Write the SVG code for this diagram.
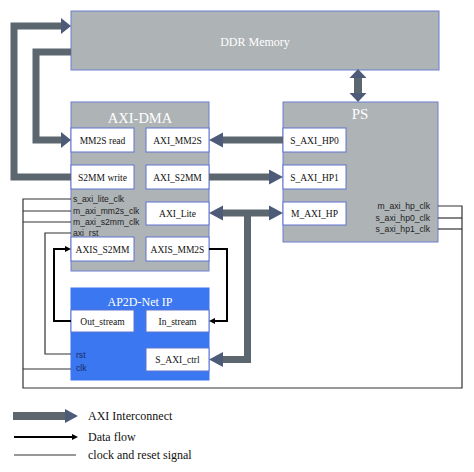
<svg xmlns="http://www.w3.org/2000/svg" width="474" height="472" viewBox="0 0 474 472">
<style>
.gray{fill:#aeb3b5;stroke:#6b7fd0;stroke-width:1}
.blue{fill:#3b77f0;stroke:#3b77f0;stroke-width:1}
.sub{fill:#ffffff;stroke:#5f74d0;stroke-width:1}
.lbl{font-family:"Liberation Serif","Times New Roman",serif;font-size:9.5px;fill:#111;text-anchor:middle}
.ttl{font-family:"Liberation Serif","Times New Roman",serif;fill:#ffffff;text-anchor:middle}
.sig{font-family:"Liberation Sans",Arial,sans-serif;font-size:8.6px;fill:#222}
.sigb{font-family:"Liberation Sans",Arial,sans-serif;font-size:8.6px;fill:#1c2a66}
.leg{font-family:"Liberation Serif","Times New Roman",serif;font-size:12px;fill:#111}
.axi{fill:none;stroke:#5b666e;stroke-width:7}
.head{fill:#4d5b78}
.df{fill:none;stroke:#000;stroke-width:2}
.dfh{fill:#000}
.clk{fill:none;stroke:#333;stroke-width:1.2}
</style>

<g id="ddr">
<rect class="gray" x="71" y="11" width="368" height="59"/>
<text class="ttl" x="255" y="46" font-size="12">DDR Memory</text>
</g>

<g id="axi-dma">
<rect class="gray" x="71" y="102" width="138" height="169"/>
<text class="ttl" x="140" y="123" font-size="14.5">AXI-DMA</text>
<text class="sig" x="73" y="202">s_axi_lite_clk</text>
<text class="sig" x="73" y="214">m_axi_mm2s_clk</text>
<text class="sig" x="73" y="225">m_axi_s2mm_clk</text>
<text class="sig" x="73" y="236">axi_rst</text>
</g>
<g id="mm2s-read"><rect class="sub" x="71" y="128" width="63" height="24"/><text class="lbl" x="102.5" y="143.5">MM2S read</text></g>
<g id="axi-mm2s"><rect class="sub" x="146" y="128" width="63" height="24"/><text class="lbl" x="177.5" y="143.5">AXI_MM2S</text></g>
<g id="s2mm-write"><rect class="sub" x="71" y="165" width="63" height="24"/><text class="lbl" x="102.5" y="180.5">S2MM write</text></g>
<g id="axi-s2mm"><rect class="sub" x="146" y="165" width="63" height="24"/><text class="lbl" x="177.5" y="180.5">AXI_S2MM</text></g>
<g id="axi-lite"><rect class="sub" x="146" y="202" width="63" height="23"/><text class="lbl" x="177.5" y="216.5">AXI_Lite</text></g>
<g id="axis-s2mm"><rect class="sub" x="71" y="237" width="63" height="24"/><text class="lbl" x="102.5" y="252.5">AXIS_S2MM</text></g>
<g id="axis-mm2s"><rect class="sub" x="146" y="237" width="63" height="24"/><text class="lbl" x="177.5" y="252.5">AXIS_MM2S</text></g>

<g id="ap2d">
<rect class="blue" x="71" y="288" width="138" height="92"/>
<text class="ttl" x="140" y="306" font-size="12">AP2D-Net IP</text>
<text class="sigb" x="76" y="358">rst</text>
<text class="sigb" x="76" y="371">clk</text>
</g>
<g id="out-stream"><rect class="sub" x="71" y="310" width="63" height="22"/><text class="lbl" x="102.5" y="324.5">Out_stream</text></g>
<g id="in-stream"><rect class="sub" x="146" y="310" width="63" height="22"/><text class="lbl" x="177.5" y="324.5">In_stream</text></g>
<g id="s-axi-ctrl"><rect class="sub" x="146" y="348" width="63" height="23"/><text class="lbl" x="177.5" y="362.5">S_AXI_ctrl</text></g>

<g id="ps">
<rect class="gray" x="283" y="102" width="155" height="140"/>
<text class="ttl" x="360" y="119" font-size="15">PS</text>
<text class="sig" x="430" y="209" text-anchor="end">m_axi_hp_clk</text>
<text class="sig" x="430" y="221" text-anchor="end">s_axi_hp0_clk</text>
<text class="sig" x="430" y="232" text-anchor="end">s_axi_hp1_clk</text>
</g>
<g id="s-axi-hp0"><rect class="sub" x="283" y="128" width="63" height="24"/><text class="lbl" x="314.5" y="143.5">S_AXI_HP0</text></g>
<g id="s-axi-hp1"><rect class="sub" x="283" y="165" width="63" height="24"/><text class="lbl" x="314.5" y="180.5">S_AXI_HP1</text></g>
<g id="m-axi-hp"><rect class="sub" x="283" y="202" width="63" height="23"/><text class="lbl" x="314.5" y="216.5">M_AXI_HP</text></g>

<g id="connectors">
<!-- clock and reset -->
<polyline class="clk" points="71,199 23,199 23,388 462,388 462,206 438,206"/>
<line class="clk" x1="23" y1="211" x2="71" y2="211"/>
<line class="clk" x1="23" y1="222" x2="71" y2="222"/>
<line class="clk" x1="23" y1="369" x2="71" y2="369"/>
<polyline class="clk" points="71,233 45,233 45,354 71,354"/>
<line class="clk" x1="438" y1="218" x2="462" y2="218"/>
<line class="clk" x1="438" y1="229" x2="462" y2="229"/>

<!-- data flow -->
<polyline class="df" points="209,249 227,249 227,321 214,321"/>
<polygon class="dfh" points="209,321 215,318 215,324"/>
<polyline class="df" points="71,321 54,321 54,249 66,249"/>
<polygon class="dfh" points="71,249 65,246 65,252"/>

<!-- AXI interconnect -->
<polyline class="axi" points="71,177 14,177 14,26 62,26"/>
<polygon class="head" points="71,26 61,18 61,34"/>
<polyline class="axi" points="71,52 36,52 36,140 62,140"/>
<polygon class="head" points="71,140 61,132 61,148"/>
<line class="axi" x1="283" y1="140" x2="222" y2="140"/>
<polygon class="head" points="209,140 223,132.5 223,147.5"/>
<line class="axi" x1="209" y1="177" x2="270" y2="177"/>
<polygon class="head" points="283,177 269,169.5 269,184.5"/>
<line class="axi" x1="222" y1="213" x2="270" y2="213"/>
<polygon class="head" points="209,213 223,205.5 223,220.5"/>
<polygon class="head" points="283,213 269,205.5 269,220.5"/>
<polyline class="axi" points="247.5,213 247.5,359.5 222,359.5"/>
<polygon class="head" points="209,359.5 223,352 223,367"/>
<line class="axi" x1="358" y1="77" x2="358" y2="94" style="stroke-width:8"/>
<polygon class="head" points="358,69 349.5,78 366.5,78"/>
<polygon class="head" points="358,102 349.5,93 366.5,93"/>
</g>

<g id="legend">
<line class="axi" x1="13" y1="416" x2="67" y2="416" style="stroke-width:8"/>
<polygon class="head" points="78,416 65,409 65,423"/>
<text class="leg" x="88" y="420">AXI Interconnect</text>
<line class="df" x1="14" y1="437" x2="73" y2="437"/>
<polygon class="dfh" points="78,437 72,434 72,440"/>
<text class="leg" x="88" y="441">Data flow</text>
<line class="clk" x1="14" y1="455" x2="76" y2="455"/>
<text class="leg" x="88" y="459">clock and reset signal</text>
</g>
</svg>
